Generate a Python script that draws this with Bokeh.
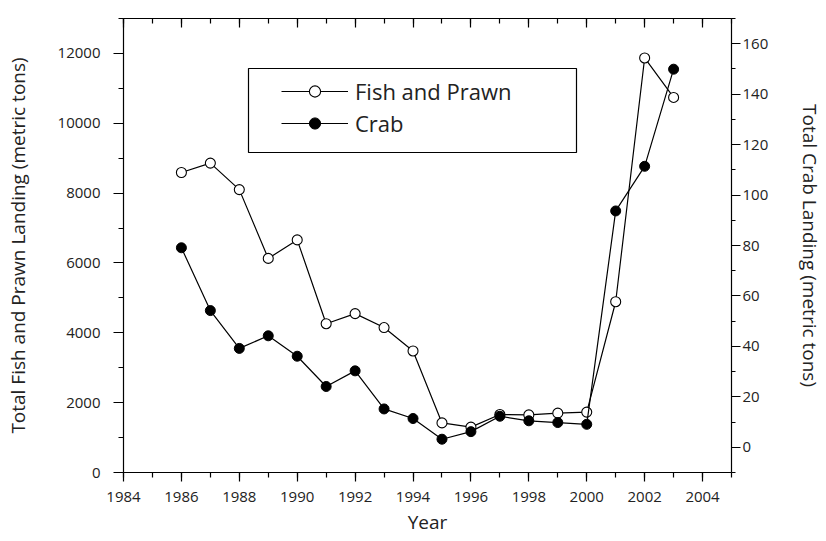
from bokeh.plotting import figure
from bokeh.models import (Range1d, LinearAxis, SingleIntervalTicker, Legend,
                          LegendItem, BoxAnnotation, ColumnDataSource)
from bokeh.embed import file_html
from bokeh.resources import INLINE

# ---- data ----
years = [1986, 1987, 1988, 1989, 1990, 1991, 1992, 1993, 1994,
         1995, 1996, 1997, 1998, 1999, 2000, 2001, 2002, 2003]
fish_prawn = [8590, 8860, 8100, 6130, 6660, 4260, 4550, 4150, 3480,
              1420, 1300, 1660, 1650, 1700, 1730, 4890, 11870, 10740]
crab = [79.1, 54.2, 39.2, 44.2, 36.1, 24.1, 30.3, 15.2, 11.4,
        3.2, 6.2, 12.3, 10.5, 9.8, 9.1, 93.7, 111.4, 149.9]

x_label = "Year"
left_label = "Total Fish and Prawn Landing (metric tons)"
right_label = "Total Crab Landing (metric tons)"
fish_name = "Fish and Prawn"
crab_name = "Crab"

FONT = "Open Sans"

src = ColumnDataSource(dict(year=years, fish=fish_prawn, crab=crab))

p = figure(width=826, height=541, x_range=Range1d(1984, 2005),
           y_range=Range1d(0, 13000), output_backend="svg",
           toolbar_location=None, x_axis_location=None, y_axis_location=None,
           min_border_left=123, min_border_right=87, min_border_top=18,
           min_border_bottom=69)
p.extra_y_ranges = {"crab": Range1d(-10, 170)}
p.outline_line_color = None
p.xgrid.visible = False
p.ygrid.visible = False


def style(ax):
    ax.axis_line_color = "black"
    ax.axis_line_width = 1.2
    ax.major_tick_line_color = "black"
    ax.minor_tick_line_color = "black"
    ax.major_tick_line_width = 1.2
    ax.minor_tick_line_width = 1.2
    ax.major_label_text_font = FONT
    ax.major_label_text_font_size = "15px"
    ax.major_label_text_color = "#222222"
    ax.axis_label_text_font = FONT
    ax.axis_label_text_font_size = "19px"
    ax.axis_label_text_font_style = "normal"
    ax.axis_label_text_color = "#222222"


xb = LinearAxis(ticker=SingleIntervalTicker(interval=2, num_minor_ticks=2),
                axis_label=x_label)
style(xb)
xb.major_tick_out = 9
xb.major_tick_in = 0
xb.minor_tick_out = 5
xb.minor_tick_in = 0
xb.major_label_standoff = 10
xb.axis_label_standoff = 4
p.add_layout(xb, "below")

xt = LinearAxis(ticker=SingleIntervalTicker(interval=2, num_minor_ticks=2))
style(xt)
xt.major_tick_out = 0
xt.major_tick_in = 9
xt.minor_tick_out = 0
xt.minor_tick_in = 5
xt.major_label_text_font_size = "1px"
xt.major_label_text_color = None
xt.major_label_standoff = 0
p.add_layout(xt, "above")

yl = LinearAxis(ticker=SingleIntervalTicker(interval=2000, num_minor_ticks=2),
                axis_label=left_label)
style(yl)
yl.major_tick_out = 10
yl.major_tick_in = 0
yl.minor_tick_out = 5
yl.minor_tick_in = 0
yl.major_label_standoff = 13
yl.axis_label_standoff = 24
p.add_layout(yl, "left")

yr = LinearAxis(y_range_name="crab",
                ticker=SingleIntervalTicker(interval=20, num_minor_ticks=2),
                axis_label=right_label)
style(yr)
yr.major_tick_out = 9
yr.major_tick_in = 0
yr.minor_tick_out = 4
yr.minor_tick_in = 0
yr.major_label_standoff = 2
yr.axis_label_standoff = 26
p.add_layout(yr, "right")

# ---- series ----
fl = p.line("year", "fish", source=src, line_color="black", line_width=1.2)
fs = p.scatter("year", "fish", source=src, marker="circle", size=10,
               fill_color="white", line_color="black", line_width=1.1)
cl = p.line("year", "crab", source=src, y_range_name="crab",
            line_color="black", line_width=1.2)
cs = p.scatter("year", "crab", source=src, y_range_name="crab",
               marker="circle", size=10, fill_color="black",
               line_color="black")

# ---- legend ----
box = BoxAnnotation(left=248, right=576, top=68, bottom=152,
                    left_units="canvas", right_units="canvas",
                    top_units="canvas", bottom_units="canvas",
                    fill_color=None, line_color="black", line_alpha=1.0,
                    line_width=1.2)
p.add_layout(box)

legend = Legend(items=[LegendItem(label=fish_name, renderers=[fl, fs]),
                       LegendItem(label=crab_name, renderers=[cl, cs])],
                location=(158, 334), border_line_color=None,
                background_fill_alpha=0, padding=12, spacing=2,
                glyph_width=67, glyph_height=28, label_height=20,
                label_standoff=7, label_text_font=FONT,
                label_text_font_size="22px", label_text_color="#222222",
                margin=0)
p.add_layout(legend)

open("out.html", "w").write(file_html(p, INLINE))
